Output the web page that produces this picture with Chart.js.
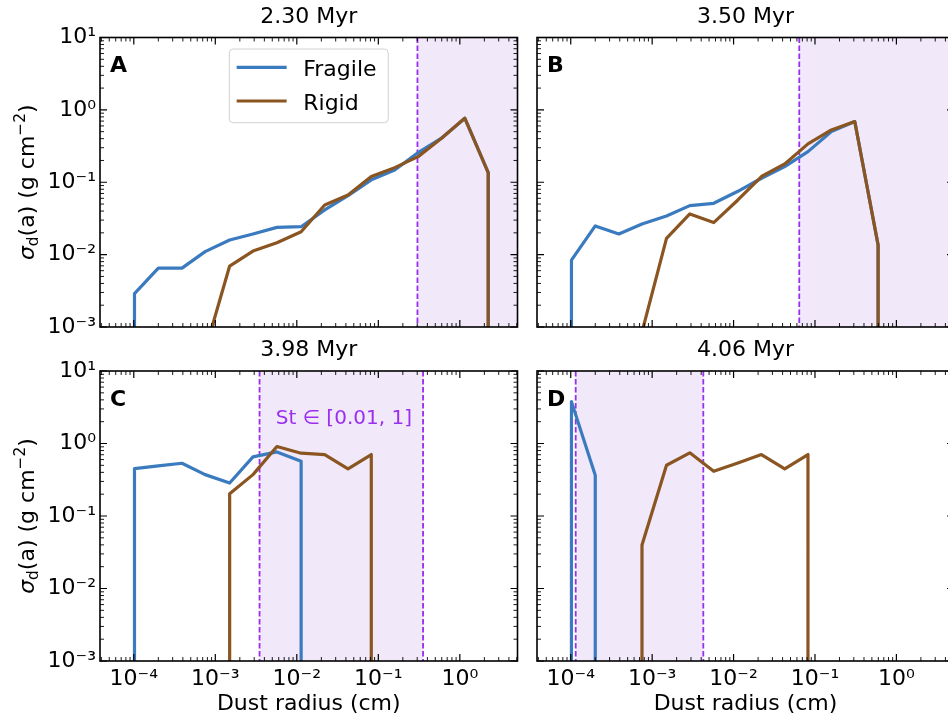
<!DOCTYPE html>
<html><head><meta charset="utf-8">
<script src="https://cdn.jsdelivr.net/npm/chart.js@4"></script>
<style>
html,body{margin:0;padding:0;background:#fff;}
body{width:948px;height:717px;overflow:hidden;position:relative;}
canvas{position:absolute;}
</style></head><body>
<canvas id="pA"></canvas>
<canvas id="pB"></canvas>
<canvas id="pC"></canvas>
<canvas id="pD"></canvas>
<script>
// ---- data ----
const radius = [1.02e-4, 2.0e-4, 3.9e-4, 7.5e-4, 1.5e-3, 2.9e-3, 5.7e-3, 1.13e-2, 2.2e-2, 4.25e-2, 8.2e-2, 0.159, 0.308, 0.596, 1.15, 2.23];
const timeLabels = ['2.30 Myr', '3.50 Myr', '3.98 Myr', '4.06 Myr'];
const panelLetters = ['A', 'B', 'C', 'D'];
const seriesNames = ['Fragile', 'Rigid'];

const fragileA = [2.9e-3, 6.5e-3, 6.5e-3, 1.1e-2, 1.59e-2, 1.93e-2, 2.38e-2, 2.43e-2, 4.14e-2, 6.53e-2, 0.108, 0.148, 0.257, 0.406, 0.767, 0.136];
const rigidA   = [0, 0, 0, 4.7e-4, 6.95e-3, 1.12e-2, 1.46e-2, 2.07e-2, 4.85e-2, 6.67e-2, 0.120, 0.159, 0.226, 0.406, 0.767, 0.136];
const fragileB = [8.4e-3, 2.49e-2, 1.93e-2, 2.65e-2, 3.42e-2, 4.75e-2, 5.12e-2, 7.5e-2, 0.1135, 0.1645, 0.265, 0.501, 0.690, 1.36e-2, 0, 0];
const rigidB   = [0, 0, 0, 8.5e-4, 1.68e-2, 3.65e-2, 2.77e-2, 5.69e-2, 0.120, 0.179, 0.339, 0.529, 0.690, 1.36e-2, 0, 0];
const fragileC = [0.451, 0.49, 0.534, 0.372, 0.285, 0.653, 0.766, 0.569, 0, 0, 0, 0, 0, 0, 0, 0];
const rigidC   = [0, 0, 0, 0, 0.203, 0.372, 0.908, 0.735, 0.704, 0.446, 0.704, 0, 0, 0, 0, 0];
const fragileD = [3.78, 0.364, 0, 0, 0, 0, 0, 0, 0, 0, 0, 0, 0, 0, 0, 0];
const rigidD   = [0, 0, 0, 0.0399, 0.501, 0.743, 0.414, 0.54, 0.704, 0.446, 0.704, 0, 0, 0, 0, 0];

// Stokes-number band St in [0.01, 1] (null = beyond the axis)
const stLow  = [0.302, 0.0641, 3.49e-3, 1.15e-4];
const stHigh = [null, null, 0.354, 4.25e-3];
const stText = 'St \u2208 [0.01, 1]';

const xTickValues = [1e-4, 1e-3, 1e-2, 1e-1, 1];
const xTickLabels = ['10\u207B\u2074', '10\u207B\u00B3', '10\u207B\u00B2', '10\u207B\u00B9', '10\u2070'];
const yTickValues = [1e-3, 1e-2, 1e-1, 1, 10];
const yTickLabels = ['10\u207B\u00B3', '10\u207B\u00B2', '10\u207B\u00B9', '10\u2070', '10\u00B9'];
const xTitle = 'Dust radius (cm)';

// ---- styling ----
const FONT = '"DejaVu Sans", sans-serif';
const BLUE = '#3a7abf', BROWN = '#8b5522', PURPLE = '#9a2ff0', SHADE = '#f1e9f9';
const X_MIN = 3.85e-5, X_MAX = 5.1, Y_MIN = 1e-3, Y_MAX = 10;
const FLOOR = 1e-9; // empty bins (zero mass) drawn as a drop below the axis

function toPoints(vals) {
  const pts = [];
  let run = false;
  for (let i = 0; i < vals.length; i++) {
    const v = vals[i];
    if (v > 0) {
      if (!run) {
        if (pts.length) pts.push({x: radius[i], y: null});
        pts.push({x: radius[i], y: FLOOR});
        run = true;
      }
      pts.push({x: radius[i], y: v});
    } else if (run) {
      pts.push({x: radius[i - 1], y: FLOOR});
      run = false;
    }
  }
  if (run) pts.push({x: radius[vals.length - 1], y: FLOOR});
  return pts;
}

function labelFor(v, vals, labels) {
  for (let i = 0; i < vals.length; i++) {
    if (Math.abs(Math.log10(v) - Math.log10(vals[i])) < 1e-6) return labels[i];
  }
  return '';
}

function drawYTitle(ctx, cx, cy) {
  const big = '22px ' + FONT, small = '15.4px ' + FONT, ital = 'italic 22px ' + FONT;
  const segs = [
    {t: '\u03C3', f: ital, dy: 0},
    {t: 'd', f: small, dy: 4},
    {t: '(a) (g cm', f: big, dy: 0},
    {t: '\u22122', f: small, dy: -9},
    {t: ')', f: big, dy: 0}
  ];
  ctx.save();
  ctx.translate(cx, cy);
  ctx.rotate(-Math.PI / 2);
  let total = 0;
  segs.forEach(s => { ctx.font = s.f; s.w = ctx.measureText(s.t).width; total += s.w; });
  let x = -total / 2;
  ctx.textAlign = 'left'; ctx.textBaseline = 'alphabetic'; ctx.fillStyle = '#000';
  segs.forEach(s => { ctx.font = s.f; ctx.fillText(s.t, x, s.dy); x += s.w; });
  ctx.restore();
}

const panelPlugin = {
  id: 'panelDeco',
  beforeDatasetsDraw(chart, args, opts) {
    const i = opts.idx;
    const {ctx, chartArea: ca} = chart;
    const xs = chart.scales.x;
    ctx.save();
    const lo = stLow[i], hi = stHigh[i];
    const x0 = Math.max(ca.left, xs.getPixelForValue(lo));
    const x1 = hi == null ? ca.right : Math.min(ca.right, xs.getPixelForValue(hi));
    ctx.fillStyle = SHADE;
    ctx.fillRect(x0, ca.top, x1 - x0, ca.bottom - ca.top);
    ctx.strokeStyle = PURPLE; ctx.lineWidth = 1.8; ctx.setLineDash([5.5, 2.5]);
    [lo, hi].forEach(v => {
      if (v == null) return;
      const px = xs.getPixelForValue(v);
      ctx.beginPath(); ctx.moveTo(px, ca.top); ctx.lineTo(px, ca.bottom); ctx.stroke();
    });
    ctx.restore();
  },
  afterDatasetsDraw(chart, args, opts) {
    const i = opts.idx;
    const {ctx, chartArea: ca} = chart;
    const xs = chart.scales.x, ys = chart.scales.y;
    ctx.save();
    // minor / major ticks, inward, on all four sides
    ctx.strokeStyle = '#000';
    for (let n = -6; n <= 2; n++) {
      for (let m = 1; m <= 9; m++) {
        const v = m * Math.pow(10, n);
        const major = m === 1;
        const len = major ? 7 : 4;
        ctx.lineWidth = major ? 1.2 : 0.9;
        if (v >= X_MIN && v <= X_MAX) {
          const px = xs.getPixelForValue(v);
          ctx.beginPath();
          ctx.moveTo(px, ca.bottom); ctx.lineTo(px, ca.bottom - len);
          ctx.moveTo(px, ca.top); ctx.lineTo(px, ca.top + len);
          ctx.stroke();
        }
        if (v >= Y_MIN && v <= Y_MAX) {
          const py = ys.getPixelForValue(v);
          ctx.beginPath();
          ctx.moveTo(ca.left, py); ctx.lineTo(ca.left + len, py);
          ctx.moveTo(ca.right, py); ctx.lineTo(ca.right - len, py);
          ctx.stroke();
        }
      }
    }
    // frame
    ctx.lineWidth = 1.6;
    ctx.strokeRect(ca.left, ca.top, ca.right - ca.left, ca.bottom - ca.top);

    // title
    ctx.fillStyle = '#000';
    ctx.font = '22px ' + FONT;
    ctx.textAlign = 'center'; ctx.textBaseline = 'alphabetic';
    ctx.fillText(timeLabels[i], (ca.left + ca.right) / 2, ca.top - 15);

    // panel letter
    ctx.font = 'bold 22px ' + FONT;
    ctx.textAlign = 'left';
    ctx.fillText(panelLetters[i], ca.left + 10, ca.top + 34.5);

    // y title on left panels
    if (opts.yTitle) drawYTitle(ctx, 34, (ca.top + ca.bottom) / 2);

    // St band label
    if (opts.stLabel) {
      const a = xs.getPixelForValue(stLow[i]), b = xs.getPixelForValue(stHigh[i]);
      ctx.font = '20px ' + FONT;
      ctx.fillStyle = PURPLE;
      ctx.textAlign = 'center';
      ctx.fillText(stText, (a + b) / 2 + 2.5, ca.top + 53.3);
    }

    // legend
    if (opts.legend) {
      const w = 159, h = 73.7;
      const bx = (ca.left + ca.right) / 2 - w / 2, by = ca.top + 11.5;
      ctx.beginPath();
      ctx.roundRect(bx, by, w, h, 4);
      ctx.fillStyle = 'rgba(255,255,255,0.8)';
      ctx.fill();
      ctx.strokeStyle = '#d0d0d0'; ctx.lineWidth = 1;
      ctx.stroke();
      chart.data.datasets.forEach((ds, k) => {
        const ly = by + 18.3 + k * 33.7;
        ctx.strokeStyle = ds.borderColor; ctx.lineWidth = 3.2;
        ctx.beginPath(); ctx.moveTo(bx + 7.4, ly); ctx.lineTo(bx + 57.4, ly); ctx.stroke();
        ctx.fillStyle = '#000'; ctx.font = '22px ' + FONT; ctx.textAlign = 'left';
        ctx.fillText(ds.label, bx + 74, ly + 8.5);
      });
    }
    ctx.restore();
  }
};

const panels = [
  {id: 'pA', idx: 0, left: 0,   top: 0,   w: 560, h: 360, ca: {l: 100, t: 37.5, r: 517.5, b: 327}, yLabels: true,  xLabels: false, legend: true,  st: false, frag: fragileA, rig: rigidA},
  {id: 'pB', idx: 1, left: 470, top: 0,   w: 520, h: 360, ca: {l: 537, t: 37.5, r: 954,   b: 327}, yLabels: false, xLabels: false, legend: false, st: false, frag: fragileB, rig: rigidB},
  {id: 'pC', idx: 2, left: 0,   top: 330, w: 560, h: 387, ca: {l: 100, t: 371,  r: 517.5, b: 661}, yLabels: true,  xLabels: true,  legend: false, st: true,  frag: fragileC, rig: rigidC},
  {id: 'pD', idx: 3, left: 470, top: 330, w: 520, h: 387, ca: {l: 537, t: 371,  r: 954,   b: 661}, yLabels: false, xLabels: true,  legend: false, st: false, frag: fragileD, rig: rigidD}
];

panels.forEach(p => {
  const cv = document.getElementById(p.id);
  cv.width = p.w; cv.height = p.h;
  cv.style.left = p.left + 'px'; cv.style.top = p.top + 'px';
  cv.style.width = p.w + 'px'; cv.style.height = p.h + 'px';
  const yWidth = p.ca.l - p.left;
  const belowArea = p.top + p.h - p.ca.b;
  const xHeight = p.xLabels ? belowArea : 0;
  const lineDs = (label, vals, color, order) => ({
    label, data: toPoints(vals), borderColor: color, backgroundColor: color, order,
    borderWidth: 3.2, pointRadius: 0, pointHoverRadius: 0, tension: 0, fill: false,
    clip: 0, borderJoinStyle: 'round', borderCapStyle: 'butt', spanGaps: false
  });
  new Chart(cv, {
    type: 'line',
    data: {datasets: [lineDs(seriesNames[0], p.frag, BLUE, 1), lineDs(seriesNames[1], p.rig, BROWN, 0)]},
    options: {
      responsive: false, animation: false, devicePixelRatio: 1,
      events: [],
      layout: {padding: {left: 0, top: p.ca.t - p.top, right: p.left + p.w - p.ca.r, bottom: p.xLabels ? 0 : belowArea}},
      plugins: {
        legend: {display: false}, tooltip: {enabled: false}, title: {display: false},
        panelDeco: {idx: p.idx, yTitle: p.yLabels, legend: p.legend, stLabel: p.st}
      },
      scales: {
        x: {
          type: 'logarithmic', position: 'bottom', min: X_MIN, max: X_MAX,
          grid: {display: false, drawTicks: false}, border: {display: false},
          afterBuildTicks: s => { s.ticks = xTickValues.map(v => ({value: v})); },
          ticks: {display: p.xLabels, autoSkip: false, maxRotation: 0, minRotation: 0, padding: 5, color: '#000',
                  font: {family: FONT, size: 22}, callback: v => labelFor(v, xTickValues, xTickLabels)},
          title: {display: p.xLabels, text: xTitle, color: '#000', font: {family: FONT, size: 22}, padding: {top: 0, bottom: 0}},
          afterFit: s => { s.height = xHeight; }
        },
        y: {
          type: 'logarithmic', position: 'left', min: Y_MIN, max: Y_MAX,
          grid: {display: false, drawTicks: false}, border: {display: false},
          afterBuildTicks: s => { s.ticks = yTickValues.map(v => ({value: v})); },
          ticks: {display: p.yLabels, autoSkip: false, padding: 4, color: '#000',
                  font: {family: FONT, size: 22}, callback: v => labelFor(v, yTickValues, yTickLabels)},
          afterFit: s => { s.width = yWidth; }
        }
      }
    },
    plugins: [panelPlugin]
  });
});
</script>
</body></html>
